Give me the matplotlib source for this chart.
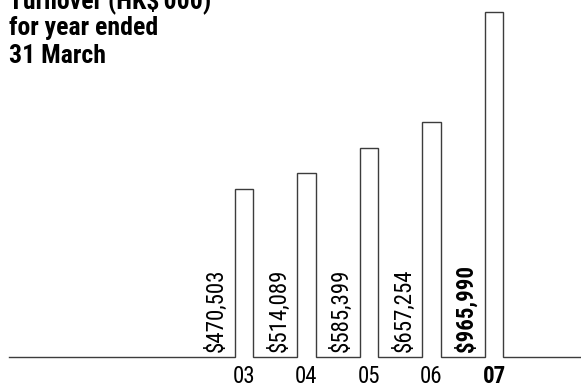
import matplotlib.pyplot as plt
import numpy as np

years = ['03', '04', '05', '06', '07']
turnover = [470503, 514089, 585399, 657254, 965990]
value_labels = ['$470,503', '$514,089', '$585,399', '$657,254', '$965,990']
title_lines = ["Turnover (HK$'000)", 'for year ended', '31 March']

narrow = ['Roboto Condensed', 'Liberation Sans Narrow', 'DejaVu Sans']

fig = plt.figure(figsize=(5.81, 3.88), dpi=100)
ax = fig.add_axes([0, 31 / 388, 1, (388 - 31 - 12) / 388])

x = np.arange(len(years))
w = 0.29
x_start = -3.76
x_end = 5.5

# outline: baseline stepping up and over every bar
px = [x_start]
py = [0]
for xi, v in zip(x, turnover):
    px += [xi - w / 2, xi - w / 2, xi + w / 2, xi + w / 2]
    py += [0, v, v, 0]
px.append(x_end)
py.append(0)
ax.plot(px, py, color='#3c3c3c', lw=1.0, solid_joinstyle='miter', clip_on=False)

for i, (xi, lab) in enumerate(zip(x, value_labels)):
    last = i == len(years) - 1
    ax.text(xi - 0.44, 14000, lab, rotation=90, ha='center', va='bottom',
            fontsize=16.5, family=narrow,
            fontweight='bold' if last else 'normal', color='black')
    ax.text(xi, -55000, years[i], ha='center', va='center', fontsize=16.5,
            family=narrow, fontweight='bold' if last else 'normal')

ax.set_xlim(-3.904, 5.392)
ax.set_ylim(0, 965990)
ax.axis('off')

# heading, one line per text, top line runs off the top edge
for line, base in zip(title_lines, [8, 35.5, 63]):
    fig.text(9 / 581, 1 - base / 388, line, ha='left', va='baseline',
             fontsize=18.5, family=narrow, fontweight='bold')

fig.savefig('out.png', dpi=100)
